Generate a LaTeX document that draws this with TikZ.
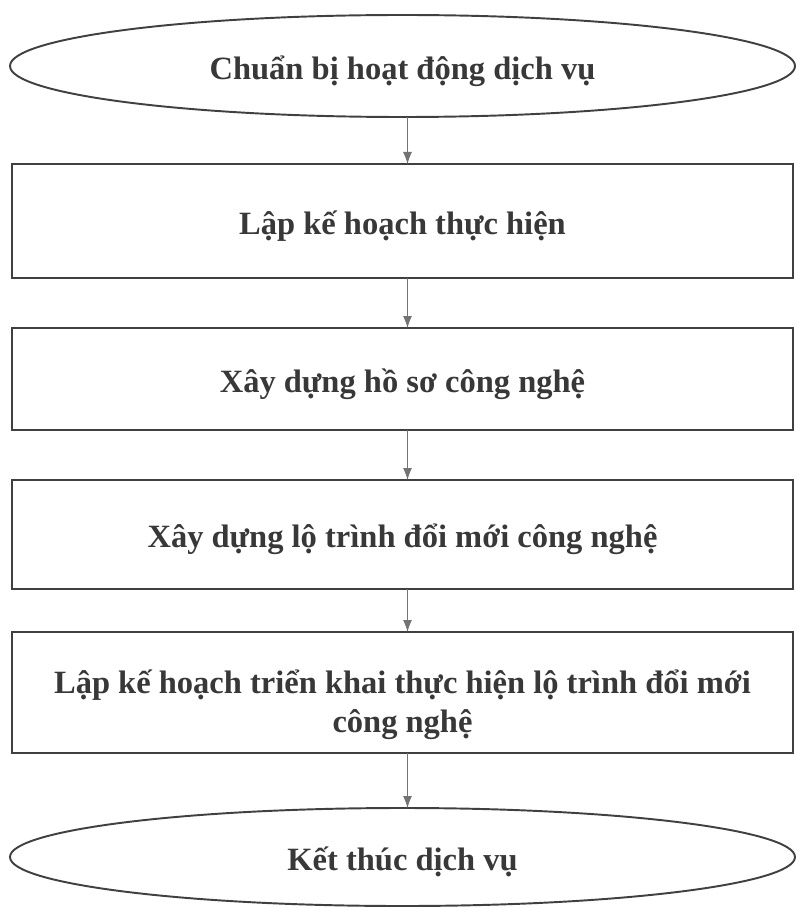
\documentclass[tikz,border=0pt]{standalone}
\usepackage{fontspec}
\setmainfont{Liberation Serif}
\usetikzlibrary{positioning, arrows.meta, shapes.geometric}

\begin{document}
\begin{tikzpicture}[
        terminal/.style = {ellipse, draw=black!75, line width=1.1pt, minimum width=15.7cm, minimum height=2cm, inner sep=2pt, outer sep=0pt, text height=19pt, text depth=4pt, text=black!78, font=\fontsize{18.5}{22}\selectfont\bfseries},%
        phase/.style = {rectangle, draw=black!75, line width=1.1pt, minimum width=15.62cm, inner sep=2pt, outer sep=0pt, text height=19pt, text depth=4pt, align=center, text=black!78, font=\fontsize{18.5}{22}\selectfont\bfseries},%
        arrow/.style = {-{Latex[length=2.4mm, width=1.8mm]}, draw=black!55, line width=0.5pt}%
    ]%
        \useasboundingbox (0,0) rectangle (15.92,-18.16);
        \node[terminal, minimum height=2.04cm] (start) at (8.05,-1.32) {Chuẩn bị hoạt động dịch vụ};
        \node[phase, minimum height=2.28cm, below=0.94cm of start] (plan) {Lập kế hoạch thực hiện};
        \node[phase, minimum height=2.04cm, below=1cm of plan] (profile) {Xây dựng hồ sơ công nghệ};
        \node[phase, minimum height=2.18cm, below=1cm of profile] (roadmap) {Xây dựng lộ trình đổi mới công nghệ};
        \node[phase, minimum height=2.42cm, text height=49.4pt, text depth=4pt, below=0.86cm of roadmap] (deploy) {Lập kế hoạch triển khai thực hiện lộ trình đổi mới\\công nghệ};
        \node[terminal, minimum height=1.96cm, below=1.1cm of deploy] (finish) {Kết thúc dịch vụ};
        \draw[arrow] ([xshift=1mm]start.south) -- ([xshift=1mm]plan.north);
        \draw[arrow] ([xshift=1mm]plan.south) -- ([xshift=1mm]profile.north);
        \draw[arrow] ([xshift=1mm]profile.south) -- ([xshift=1mm]roadmap.north);
        \draw[arrow] ([xshift=1mm]roadmap.south) -- ([xshift=1mm]deploy.north);
        \draw[arrow] ([xshift=1mm]deploy.south) -- ([xshift=1mm]finish.north);
    \end{tikzpicture}
\end{document}
